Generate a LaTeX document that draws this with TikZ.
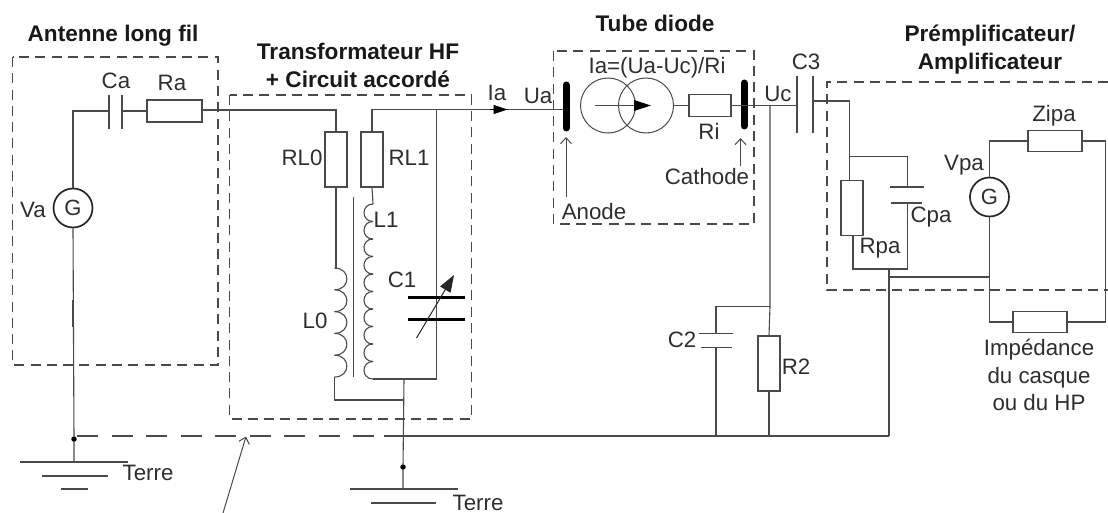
\documentclass[tikz,border=0pt]{standalone}
\usepackage{fontspec}
\setmainfont{Liberation Sans}
\usetikzlibrary{arrows.meta}
\definecolor{wirec}{HTML}{4A4A4A}
\definecolor{textc}{HTML}{2E2E2E}
\tikzset{
  wire/.style={draw=wirec,line width=1.1pt},
  boxd/.style={draw=wirec,line width=1.1pt,dash pattern=on 10pt off 6.3pt},
  longd/.style={draw=wirec,line width=1.2pt,dash pattern=on 21pt off 13.5pt},
  res/.style={draw=wirec,line width=1.1pt,fill=white,inner sep=0pt,minimum width=#1},
  res/.default=22pt,
  plate/.style={draw=wirec,line width=1.2pt},
  gen/.style={circle,draw=black!85,line width=1.7pt,fill=white,inner sep=0pt,minimum size=39pt,text=textc,font=\fontsize{22}{24}\selectfont},
  fatplate/.style={draw=black,line width=3pt},
  heavy/.style={draw=black,line width=7pt,line cap=round},
  lab/.style={text=textc,inner sep=0pt,font=\fontsize{22.3}{24}\selectfont},
  ttl/.style={text=black!90,inner sep=0pt,align=center,font=\fontsize{22.6}{28}\selectfont\bfseries},
  tip/.style={-{Straight Barb[length=6pt,width=11pt]},draw=wirec,line width=1pt},
  dotn/.style={circle,fill=black,inner sep=0pt,minimum size=5.5pt},
  csrc/.style={circle,draw=wirec,line width=1pt,inner sep=0pt,minimum size=55pt}
}
\begin{document}
\begin{tikzpicture}[x=1pt,y=-1pt]
\useasboundingbox (0,0) rectangle (1108,513);
% dashed frames
\draw[boxd] (12.5,57) rectangle (218,365);
\draw[boxd] (229.5,95) rectangle (471.5,419);
\draw[boxd] (553.5,51) rectangle (754,224);
\coordinate (paTR) at (1108,82);
\coordinate (paTL) at (827,82);
\coordinate (paBL) at (827,290);
\coordinate (paBR) at (1108,290);
\draw[boxd] (paTR) -- (paTL) -- (paBL) -- (paBR);
% titles
\node[ttl] (tA) at (113,36) {Antenne long fil};
\node[ttl] (tT) at (358,65) {Transformateur HF\\+ Circuit accordé};
\node[ttl] (tD) at (655,23) {Tube diode};
\node[ttl] (tP) at (990,50) {Prémplificateur/\\Amplificateur};
% ---------- antenna
\node[gen] (Va) at (73,208) {G};
\coordinate (caL) at (109,111);
\coordinate (caR) at (122,111);
\node[res=55pt,minimum height=22pt] (Ra) at (174.5,111) {};
\draw[wire] (Va.north) |- (caL);
\draw[plate] (109,95) -- (109,129);
\draw[plate] (122,95) -- (122,129);
\draw[wire] (caR) -- (Ra.west);
% ---------- transformer
\node[res=22pt,minimum height=55pt] (RL0) at (336,159.5) {};
\node[res=22pt,minimum height=55pt] (RL1) at (372,159.5) {};
\coordinate (raOut) at (202,110);
\draw[wire] (raOut) -- (RL0.north |- raOut) -- (RL0.north);
\coordinate (L0t) at (334.5,268);
\coordinate (L0b) at (334.5,377);
\coordinate (L1t) at (373,204);
\coordinate (L1b) at (373,379);
\draw[wire] (RL0.south) -- (336,268) -- (L0t);
\foreach \i in {0,...,4}
  \draw[wire] (334.5,{268+\i*21.8}) .. controls (351,{268+\i*21.8}) and (351,{268+(\i+1)*21.8}) .. (334.5,{268+(\i+1)*21.8});
\draw[wire] (RL1.south) -- (L1t);
\foreach \i in {0,...,9}
  \draw[wire] (373,{204+\i*17.5}) .. controls (361,{204+\i*17.5}) and (361,{204+(\i+1)*17.5}) .. (373,{204+(\i+1)*17.5});
\coordinate (core1) at (353.5,197);
\coordinate (core2) at (353.5,377);
\draw[wire] (core1) -- (core2);
\coordinate (jC1top) at (436.5,109.5);
\coordinate (jC1bot) at (436.5,379);
\coordinate (jGnd) at (404,379);
\coordinate (jL0) at (404,400);
\draw[wire] (RL1.north) -- (372,109.5) -- (jC1top);
\draw[wire] (jC1top) -- (jC1bot) -- (L1b);
\draw[wire] (L0b) -- (334.5,400) -- (jL0);
\draw[fatplate] (408,297) -- (465,297);
\draw[fatplate] (408,319.5) -- (465,319.5);
\coordinate (varA) at (416.5,338);
\coordinate (varB) at (454,275);
\draw[draw=black!85,line width=1pt,-{Triangle[length=17pt,width=12pt]}] (varA) -- (varB);
% right ground
\node[dotn] (d2) at (403,467) {};
\coordinate (g2) at (403,489);
\draw[wire] (jGnd) -- (d2) -- (g2);
\draw[wire,line width=1.5pt] (350,489) -- (458,489);
\draw[wire,line width=1.5pt] (371,503) -- (436,503);
% left ground
\node[dotn] (d1) at (74,439) {};
\coordinate (g1) at (74,462);
\draw[wire] (Va.south) -- (d1) -- (g1);
\draw[wire,line width=1.8pt] (72.5,300) -- (72.5,327);
\draw[wire,line width=1.5pt] (20,462) -- (128,462);
\draw[wire,line width=1.5pt] (42,476) -- (108,476);
\draw[wire,line width=1.5pt] (61,489) -- (88,489);
% long return line
\coordinate (retD) at (384,436);
\coordinate (retE) at (889,436);
\draw[longd] (77,436) -- (retD);
\draw[wire] (retD) -- (retE);
\coordinate (pA) at (223,513);
\coordinate (pB) at (246,436.5);
\draw[tip] (pA) -- (pB);
% ---------- tube
\coordinate (an) at (566,109.5);
\draw[wire] (jC1top) -- (an);
\coordinate (iaA) at (490,109.5);
\coordinate (iaB) at (507.5,109.5);
\draw[draw=black,line width=.6pt,-{Triangle[length=14pt,width=9pt]}] (iaA) -- (iaB);
\draw[heavy] (566,85) -- (566,128);
\node[csrc] (c1) at (608,105.5) {};
\node[csrc] (c2) at (646,105.5) {};
\coordinate (srcA) at (595,105.5);
\coordinate (srcB) at (651,105.5);
\draw[draw=wirec,line width=1pt] (srcA) -- (635,105.5);
\fill[black] (651,105.5) -- (634,100) -- (634,111) -- cycle;
\node[res=42pt,minimum height=22pt] (Ri) at (710,105.5) {};
\draw[wire] (c2.east) -- (Ri.west);
\draw[heavy] (744,83) -- (744,126);
\coordinate (caC) at (744,105.5);
\coordinate (c3L) at (797,105.5);
\draw[wire] (Ri.east) -- (caC) -- (c3L);
\draw[plate] (797,76) -- (797,133);
\draw[plate] (813,76) -- (813,133);
\coordinate (anB) at (566,197);
\coordinate (anT) at (566,137);
\draw[tip] (anB) -- (anT);
\coordinate (caB) at (740.5,166);
\coordinate (caT) at (740.5,138);
\draw[tip] (caB) -- (caT);
% ---------- C2 / R2
\coordinate (j1) at (770,105.5);
\coordinate (j2) at (770,306.5);
\node[res=22pt,minimum height=55pt] (R2) at (769,363.5) {};
\draw[wire] (j1) -- (j2) -- (R2.north);
\draw[wire] (R2.south) -- (769,436);
\coordinate (c2t) at (716,333.5);
\coordinate (c2b) at (716,347.5);
\draw[wire] (j2) -| (c2t);
\draw[plate] (699,333.5) -- (733,333.5);
\draw[plate] (701,347.5) -- (732,347.5);
\draw[wire] (c2b) -- (716,436);
% ---------- preamp
\node[res=22pt,minimum height=55pt] (Rpa) at (852,208) {};
\coordinate (c3R) at (813,101);
\coordinate (k1) at (849.5,101);
\coordinate (k2) at (849.5,156.5);
\coordinate (cpT) at (907.5,187);
\coordinate (cpB) at (907.5,203);
\coordinate (k3) at (907.5,269);
\coordinate (k4) at (889,269);
\coordinate (k5) at (853,269);
\draw[wire] (c3R) -- (k1) -- (k2) -- (849.5,180.5);
\draw[wire] (k2) -| (cpT);
\draw[plate] (890,187) -- (924,187);
\draw[plate] (891,203) -- (922,203);
\draw[wire] (cpB) -- (k3) -- (k5) -- (853,235.5);
\draw[wire] (k4) -- (retE);
\node[gen] (Vpa) at (989.5,197) {G};
\node[res=54pt,minimum height=21pt] (Zipa) at (1055,141) {};
\node[res=54pt,minimum height=21pt] (Zhp) at (1040,322) {};
\coordinate (rt) at (1105.5,141);
\coordinate (rb) at (1105.5,322);
\draw[wire] (Vpa.north) |- (Zipa.west);
\draw[wire] (Zipa.east) -- (rt) -- (rb) -- (Zhp.east);
\draw[wire] (Vpa.south) |- (Zhp.west);
\draw[wire] (k4 |- 0,277) -- (989.5,277);
\draw[wire,line width=1.8pt] (1003,141) -- (1016,141);
% ---------- labels
\node[lab] (lVa) at (33,210) {Va};
\node[lab] (lCa) at (116,81) {Ca};
\node[lab] (lRa) at (172,83) {Ra};
\node[lab] (lRL0) at (302,158) {RL0};
\node[lab] (lRL1) at (409,158) {RL1};
\node[lab] (lL1) at (386,220) {L1};
\node[lab] (lC1) at (402,280) {C1};
\node[lab] (lL0) at (315,321) {L0};
\node[lab] (lT1) at (148,473) {Terre};
\node[lab] (lT2) at (478,502.5) {Terre};
\node[lab] (lIa) at (497,93) {Ia};
\node[lab] (lUa) at (538,96) {Ua};
\node[lab] (lf) at (657,68) {Ia=(Ua-Uc)/Ri};
\node[lab] (lRi) at (709,131) {Ri};
\node[lab] (lCat) at (707,177) {Cathode};
\node[lab] (lAn) at (594,212) {Anode};
\node[lab] (lUc) at (778,94) {Uc};
\node[lab] (lC3) at (806,62) {C3};
\node[lab] (lZ) at (1054,116) {Zipa};
\node[lab] (lV) at (964,165) {Vpa};
\node[lab] (lCp) at (931,217) {Cpa};
\node[lab] (lRp) at (880,248) {Rpa};
\node[lab] (lC2) at (682,340) {C2};
\node[lab] (lR2) at (796,367) {R2};
\node[lab,align=center,font=\fontsize{22.3}{27.5}\selectfont] (lHP) at (1039,375) {Impédance\\du casque\\ou du HP};
\end{tikzpicture}
\end{document}
